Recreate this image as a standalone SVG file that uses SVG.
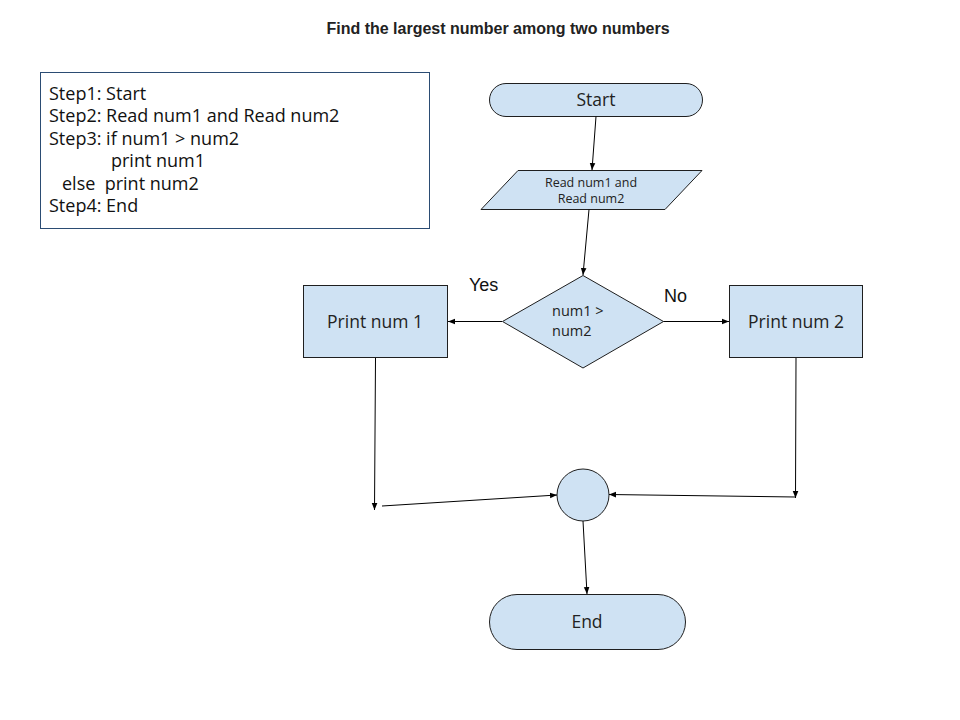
<svg xmlns="http://www.w3.org/2000/svg" width="960" height="720" viewBox="0 0 960 720">
<style>
.shape{fill:#cfe2f3;stroke:#1f1f1f;stroke-width:1}
.lbl{font-family:"Open Sans","Liberation Sans",sans-serif;fill:#222;text-anchor:middle}
.conn{stroke:#000;stroke-width:1;fill:none;marker-end:url(#ah)}
.step{font-family:"Open Sans","Liberation Sans",sans-serif;font-size:18px;fill:#111;white-space:pre}
</style>
<defs>
<marker id="ah" viewBox="0 0 10 10" refX="10" refY="5" markerWidth="7" markerHeight="7" markerUnits="userSpaceOnUse" orient="auto">
<path d="M0,1 L10,5 L0,9 Z" fill="#000"/>
</marker>
</defs>
<rect width="960" height="720" fill="#fff"/>
<text x="498" y="34" font-family="'Liberation Sans',Arial,sans-serif" font-size="16" font-weight="bold" fill="#222" text-anchor="middle">Find the largest number among two numbers</text>
<g id="steps">
<rect x="40.500" y="72.500" width="389" height="156" fill="#fff" stroke="#2b4c73" stroke-width="1"/>
<text class="step" x="49" y="100">Step1: Start</text>
<text class="step" x="49" y="122">Step2: Read num1 and Read num2</text>
<text class="step" x="49" y="145">Step3: if num1 &gt; num2</text>
<text class="step" x="111" y="167">print num1</text>
<text class="step" x="62" y="190" xml:space="preserve">else  print num2</text>
<text class="step" x="49" y="212">Step4: End</text>
</g>
<g id="start">
<rect class="shape" x="489.500" y="83.500" width="213" height="33" rx="16.500"/>
<text class="lbl" x="596" y="106" font-size="17.5">Start</text>
</g>
<g id="read">
<polygon class="shape" points="518,170.500 702,170.500 665,209.500 481,209.500"/>
<text class="lbl" x="591" y="187" font-size="12.5">Read num1 and</text>
<text class="lbl" x="591" y="203" font-size="12.5">Read num2</text>
</g>
<g id="decision">
<polygon class="shape" points="583,275.500 663.500,321.500 583,368 502.500,321.500"/>
<text x="552" y="316" font-family="'Open Sans','Liberation Sans',sans-serif" font-size="14.5" fill="#222">num1 &gt;</text>
<text x="552" y="336" font-family="'Open Sans','Liberation Sans',sans-serif" font-size="14.5" fill="#222">num2</text>
</g>
<g id="print1">
<rect class="shape" x="303.500" y="285.500" width="144" height="72"/>
<text class="lbl" x="375" y="328" font-size="17.5">Print num 1</text>
</g>
<g id="print2">
<rect class="shape" x="729.500" y="285.500" width="133" height="72"/>
<text class="lbl" x="796" y="328" font-size="17.5">Print num 2</text>
</g>
<g id="connector">
<circle class="shape" cx="583" cy="495" r="26"/>
</g>
<g id="end">
<rect class="shape" x="489.500" y="594.500" width="196" height="55" rx="27.500"/>
<text class="lbl" x="587" y="628" font-size="17.5">End</text>
</g>
<g id="labels">
<text x="469" y="291" font-family="'Liberation Sans',Arial,sans-serif" font-size="18" fill="#111">Yes</text>
<text x="664" y="302" font-family="'Liberation Sans',Arial,sans-serif" font-size="18" fill="#111">No</text>
</g>
<g id="connectors">
<line class="conn" x1="596" y1="116.500" x2="592" y2="170"/>
<line class="conn" x1="589" y1="209.500" x2="583" y2="275"/>
<line class="conn" x1="502" y1="321.500" x2="448" y2="321.500"/>
<line class="conn" x1="663.500" y1="321.500" x2="729" y2="321.500"/>
<line class="conn" x1="375.500" y1="358" x2="374.500" y2="510"/>
<line class="conn" x1="382" y1="506" x2="557" y2="495"/>
<line class="conn" x1="796" y1="358" x2="795.500" y2="498"/>
<line class="conn" x1="795.500" y1="497" x2="609" y2="494.500"/>
<line class="conn" x1="583" y1="521" x2="587" y2="594"/>
</g>
</svg>
